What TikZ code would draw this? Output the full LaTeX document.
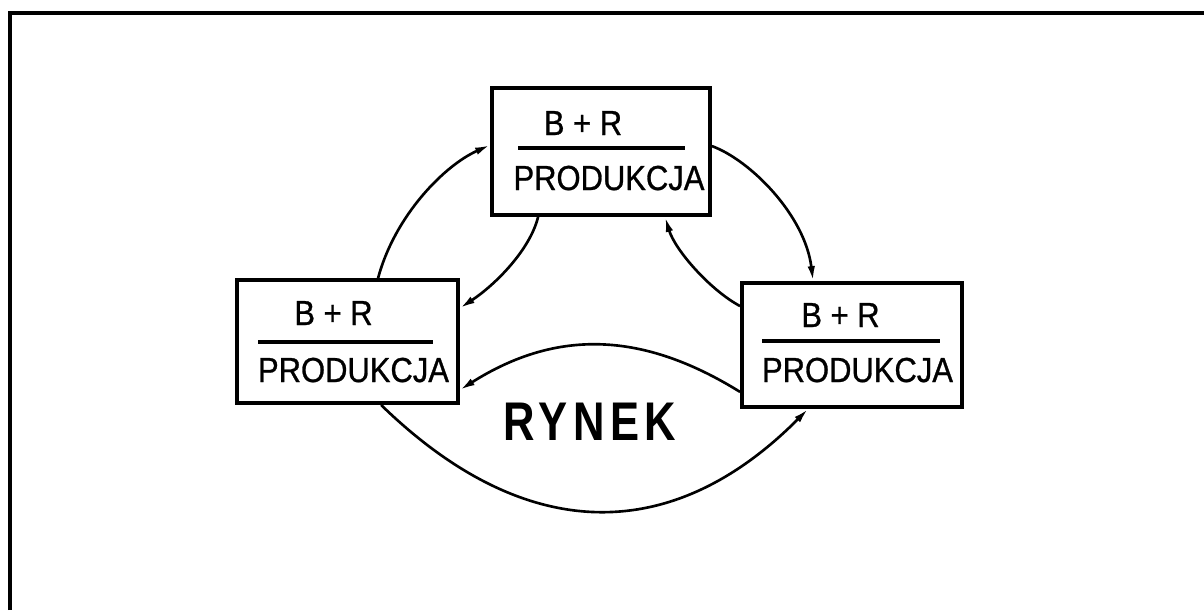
\documentclass[tikz,border=0pt]{standalone}
\usepackage{fontspec}
\usetikzlibrary{calc,arrows.meta}
\newfontfamily\lblfont[FakeStretch=0.89,FakeBold=0.8]{Liberation Sans}
\newfontfamily\rynekfont[FakeStretch=0.8,LetterSpace=10]{Liberation Sans}

\begin{document}
\begin{tikzpicture}[x=0.02cm,y=-0.02cm,
  stage/.style={draw,line width=2.2pt,inner sep=0pt,rectangle},
  lbl/.style={anchor=base,inner sep=0pt,font=\lblfont\fontsize{19.8pt}{22pt}\selectfont},
  fracline/.style={line width=2.2pt},
  flow/.style={line width=1.5pt,-{Latex[length=0.3cm,width=0.15cm]}}]

\useasboundingbox (0,0) rectangle (1204,610);

% sheet frame
\draw[line width=2.8pt] (10,610) -- (10,13) -- (1204,13);

% the three B+R / production units
\node[stage,minimum width=4.36cm,minimum height=2.54cm] (T) at (601,151.5) {};
\node[stage,minimum width=4.42cm,minimum height=2.46cm] (L) at (347.5,341.5) {};
\node[stage,minimum width=4.40cm,minimum height=2.48cm] (R) at (852,345) {};

% unit labels
\node[lbl] (tbr) at (583,135) {B + R};
\draw[fracline] (518,148) -- (685,148);
\node[lbl] (tpr) at (609,190) {PRODUKCJA};

\node[lbl] (lbr) at (333.5,325) {B + R};
\draw[fracline] (258,342) -- (433,342);
\node[lbl] (lpr) at (353.5,382) {PRODUKCJA};

\node[lbl] (rbr) at (840.5,327) {B + R};
\draw[fracline] (762,341) -- (940,341);
\node[lbl] (rpr) at (857.5,382) {PRODUKCJA};

% market
\node[anchor=base,inner sep=0pt,font=\rynekfont\bfseries\fontsize{31pt}{34pt}\selectfont] (rynek) at (590,440) {RYNEK};

% flows between the units
\draw[flow] ($(L.north west)+(143,0)$) .. controls (395,215) and (445,165) .. ($(T.north west)+(0,59)$);
\draw[flow] ($(T.south west)+(48,0)$) .. controls (530,250) and (495,285) .. ($(L.north east)+(0,30)$);
\draw[flow] ($(T.north east)+(0,60)$) .. controls (750,160) and (805,215) .. ($(R.north west)+(73,0)$);
\draw[flow] ($(R.north west)+(0,25)$) .. controls (710,290) and (675,250) .. ($(T.south west)+(175,0)$);
\draw[flow] ($(R.south west)+(0,-17)$) .. controls (642,331) and (556,329) .. ($(L.south east)+(0,-15)$);
\draw[flow] ($(L.south west)+(146,0)$) .. controls (523,543) and (670,548) .. ($(R.south west)+(68,0)$);

\end{tikzpicture}
\end{document}
